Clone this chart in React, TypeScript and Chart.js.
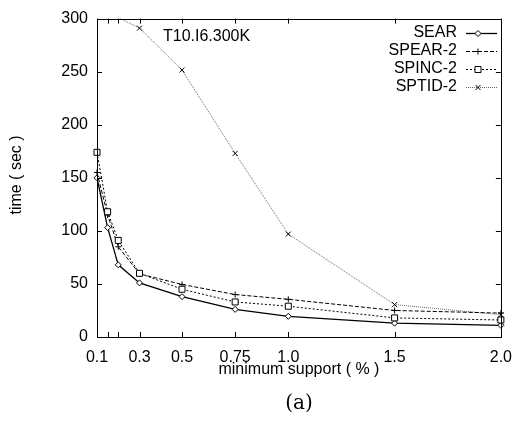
import React, { useEffect, useRef } from "react";
import { Chart, registerables } from "chart.js";

Chart.register(...registerables);

const supports = [0.1, 0.15, 0.2, 0.3, 0.5, 0.75, 1.0, 1.5, 2.0];
const xTickValues = [0.1, 0.15, 0.2, 0.3, 0.5, 0.75, 1.0, 1.5, 2.0];
const xTickLabels: Record<string, string> = {
  "0.1": "0.1",
  "0.3": "0.3",
  "0.5": "0.5",
  "0.75": "0.75",
  "1": "1.0",
  "1.5": "1.5",
  "2": "2.0",
};
const seriesNames = ["SEAR", "SPEAR-2", "SPINC-2", "SPTID-2"];
const sear = [150, 103, 68, 51, 38, 26, 19.5, 13, 11];
const spear2 = [155, 115, 85, 59.5, 49.5, 40, 35.5, 25, 22.5];
const spinc2 = [174, 118, 91, 60, 45, 33, 29, 18, 16];
const sptid2 = [null, null, 301, 291, 251.5, 173, 97, 30.5, 21];
const chartTitle = "T10.I6.300K";
const xTitle = "minimum support ( % )";
const yTitle = "time ( sec )";
const caption = "(a)";

const FONT = "Liberation Sans, Arial, Helvetica, sans-serif";

type Sty = { color: string; dash: number[]; width: number; marker: string };
const styles: Sty[] = [
  { color: "#000", dash: [], width: 1.3, marker: "diamond" },
  { color: "#000", dash: [4, 2], width: 1, marker: "plus" },
  { color: "#000", dash: [2, 2], width: 1, marker: "square" },
  { color: "#666", dash: [1, 1], width: 1, marker: "x" },
];

function drawMarker(ctx: CanvasRenderingContext2D, kind: string, x: number, y: number, color: string) {
  ctx.save();
  ctx.setLineDash([]);
  ctx.strokeStyle = color === "#666" ? "#000" : color;
  ctx.lineWidth = 1;
  ctx.beginPath();
  const r = 3;
  if (kind === "diamond") {
    ctx.moveTo(x, y - r);
    ctx.lineTo(x + r, y);
    ctx.lineTo(x, y + r);
    ctx.lineTo(x - r, y);
    ctx.closePath();
    ctx.fillStyle = "#fff";
    ctx.fill();
  } else if (kind === "plus") {
    ctx.moveTo(x - r, y);
    ctx.lineTo(x + r, y);
    ctx.moveTo(x, y - r);
    ctx.lineTo(x, y + r);
  } else if (kind === "square") {
    ctx.rect(x - 3, y - 3, 6, 6);
    ctx.fillStyle = "#fff";
    ctx.fill();
  } else {
    ctx.moveTo(x - 2.5, y - 2.5);
    ctx.lineTo(x + 2.5, y + 2.5);
    ctx.moveTo(x + 2.5, y - 2.5);
    ctx.lineTo(x - 2.5, y + 2.5);
  }
  ctx.stroke();
  ctx.restore();
}

const seriesData = [sear, spear2, spinc2, sptid2];

const decorPlugin = {
  id: "decor",
  afterDatasetsDraw(chart: any) {
    const ctx: CanvasRenderingContext2D = chart.ctx;
    const { left, right, top, bottom } = chart.chartArea;
    const xs = chart.scales.x;
    const ys = chart.scales.y;
    // markers
    seriesData.forEach((arr, i) => {
      arr.forEach((v: number | null, j: number) => {
        if (v === null || v > 300) return;
        drawMarker(ctx, styles[i].marker, xs.getPixelForValue(supports[j]), ys.getPixelForValue(v), styles[i].color);
      });
    });
  },
  afterDraw(chart: any) {
    const ctx: CanvasRenderingContext2D = chart.ctx;
    const { left, right, top, bottom } = chart.chartArea;
    const xs = chart.scales.x;
    const ys = chart.scales.y;
    ctx.save();
    ctx.strokeStyle = "#000";
    ctx.lineWidth = 1;
    ctx.setLineDash([]);
    ctx.strokeRect(Math.round(left) + 0.5, Math.round(top) + 0.5, Math.round(right - left), Math.round(bottom - top));
    ctx.beginPath();
    const tl = 5;
    xTickValues.forEach((v) => {
      const px = Math.round(xs.getPixelForValue(v)) + 0.5;
      ctx.moveTo(px, bottom);
      ctx.lineTo(px, bottom - tl);
      ctx.moveTo(px, top);
      ctx.lineTo(px, top + tl);
    });
    for (let v = 0; v <= 300; v += 50) {
      const py = Math.round(ys.getPixelForValue(v)) + 0.5;
      ctx.moveTo(left, py);
      ctx.lineTo(left + tl, py);
      ctx.moveTo(right, py);
      ctx.lineTo(right - tl, py);
    }
    ctx.stroke();

    ctx.fillStyle = "#000";
    ctx.font = `16px ${FONT}`;
    ctx.textBaseline = "middle";
    ctx.textAlign = "left";
    ctx.fillText(chartTitle, 163, 37);

    // legend
    const rows = [33, 51, 69, 87];
    seriesNames.forEach((name, i) => {
      ctx.textAlign = "right";
      ctx.fillStyle = "#000";
      ctx.fillText(name, 457, rows[i]);
      ctx.save();
      ctx.strokeStyle = styles[i].color;
      ctx.lineWidth = styles[i].width;
      ctx.setLineDash(styles[i].dash);
      ctx.beginPath();
      ctx.moveTo(466, rows[i] + 0.5);
      ctx.lineTo(497, rows[i] + 0.5);
      ctx.stroke();
      ctx.restore();
      drawMarker(ctx, styles[i].marker, 478, rows[i] + 0.5, styles[i].color);
    });

    // axis titles
    ctx.textAlign = "center";
    ctx.fillText(xTitle, (left + right) / 2, 370);
    ctx.save();
    ctx.translate(17, 175);
    ctx.rotate(-Math.PI / 2);
    ctx.fillText(yTitle, 0, 0);
    ctx.restore();

    ctx.font = `20px "DejaVu Serif", "Liberation Serif", serif`;
    ctx.fillText(caption, (left + right) / 2, 404);
    ctx.restore();
  },
};

export default function App() {
  const ref = useRef<HTMLCanvasElement>(null);
  useEffect(() => {
    if (!ref.current) return;
    const datasets = seriesData.map((arr, i) => ({
      label: seriesNames[i],
      data: supports.map((x, j) => ({ x, y: arr[j] })),
      borderColor: styles[i].color,
      borderWidth: styles[i].width,
      borderDash: styles[i].dash,
      pointRadius: 0,
      fill: false,
      tension: 0,
      spanGaps: false,
      clip: 0,
    }));
    const chart = new Chart(ref.current, {
      type: "line",
      data: { datasets },
      options: {
        animation: false,
        responsive: false,
        devicePixelRatio: 1,
        layout: { padding: { top: 16, right: 11, left: 0, bottom: 0 } },
        plugins: { legend: { display: false }, tooltip: { enabled: false }, title: { display: false } },
        scales: {
          x: {
            type: "linear",
            min: 0.1,
            max: 2.0,
            grid: { display: false, drawTicks: false },
            border: { display: false },
            afterBuildTicks: (scale: any) => {
              scale.ticks = xTickValues.map((v) => ({ value: v }));
            },
            afterFit: (scale: any) => {
              scale.height = 85;
            },
            ticks: {
              autoSkip: false,
              maxRotation: 0,
              padding: 11,
              color: "#000",
              font: { family: FONT, size: 16 },
              callback: (v: any) => xTickLabels[String(Number(v))] ?? "",
            },
          },
          y: {
            type: "linear",
            min: 0,
            max: 300,
            grid: { display: false, drawTicks: false },
            border: { display: false },
            afterFit: (scale: any) => {
              scale.width = 97;
            },
            ticks: {
              stepSize: 50,
              padding: 9,
              color: "#000",
              font: { family: FONT, size: 16 },
            },
          },
        },
      } as any,
      plugins: [decorPlugin],
    });
    return () => chart.destroy();
  }, []);
  return (
    <div style={{ position: "absolute", left: 0, top: 0, width: 523, height: 422, background: "#fff" }}>
      <canvas ref={ref} width={523} height={422} style={{ display: "block" }} />
    </div>
  );
}
